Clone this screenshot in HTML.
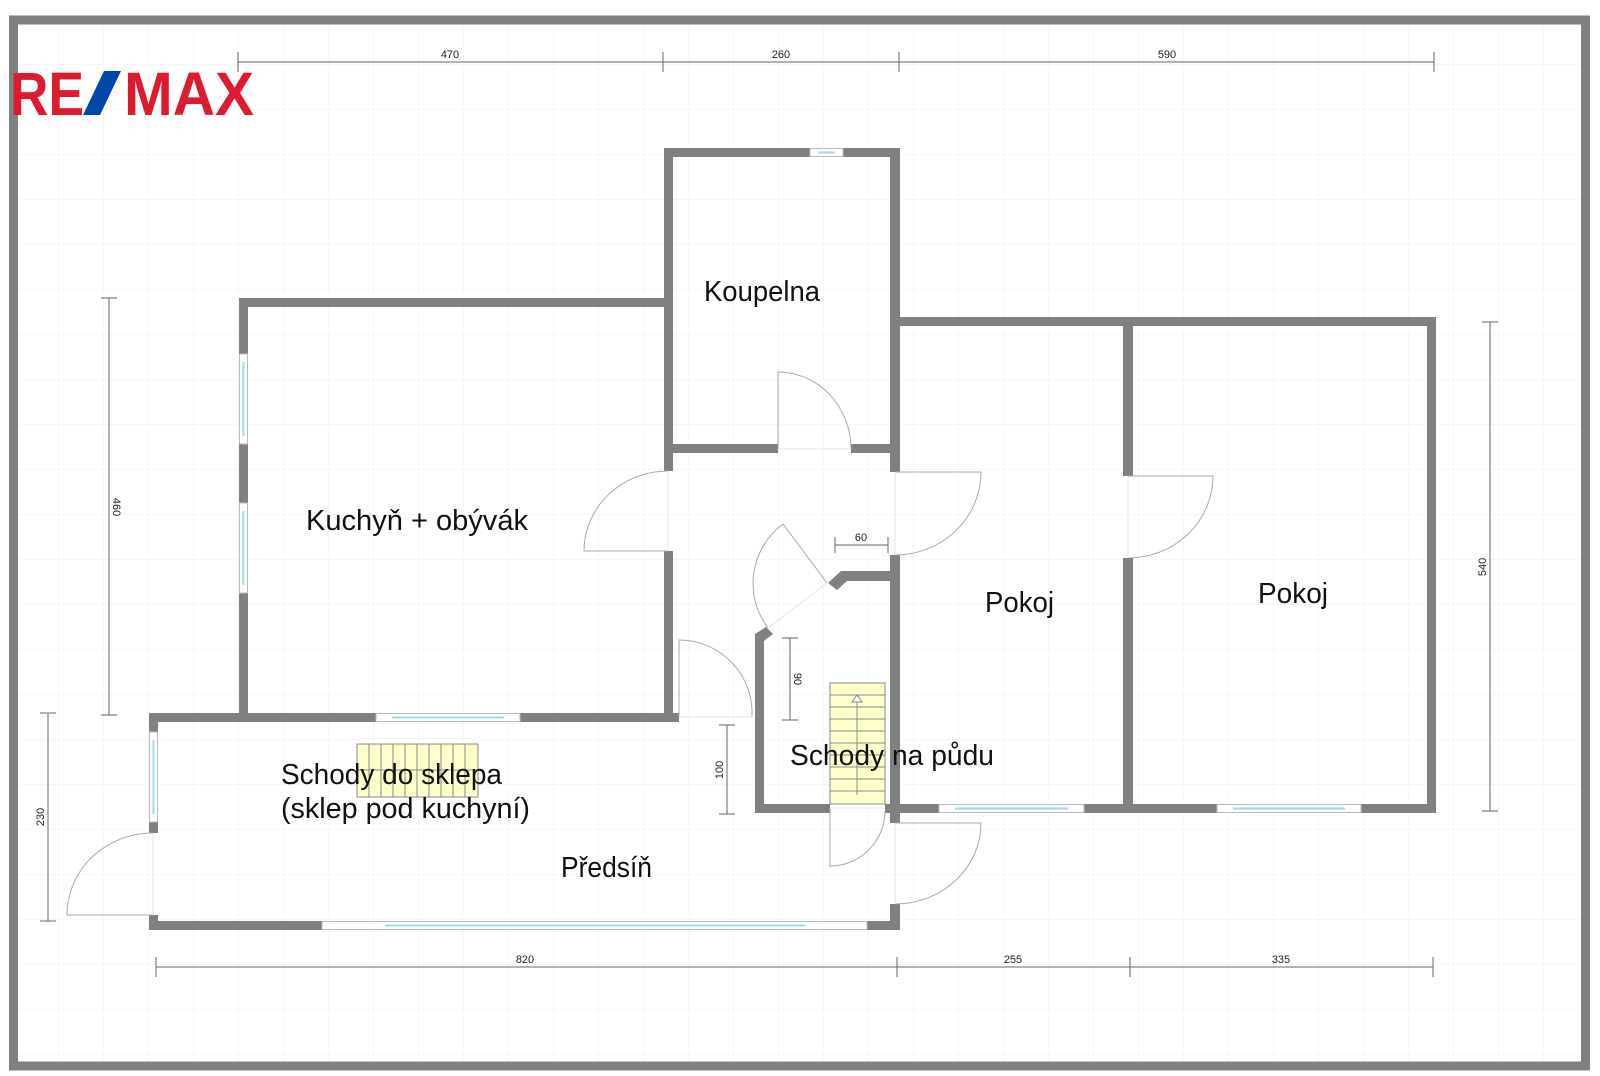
<!DOCTYPE html>
<html><head><meta charset="utf-8"><style>
html,body{margin:0;padding:0;background:#fff;}
svg{display:block;}
text{font-family:"Liberation Sans",sans-serif;}
</style></head><body>
<svg width="1600" height="1076" viewBox="0 0 1600 1076" xmlns="http://www.w3.org/2000/svg">
<defs>
<pattern id="g" width="45" height="45" patternUnits="userSpaceOnUse" x="14" y="20">
<path d="M45 0V45M0 45H45" fill="none" stroke="#eeeef8" stroke-width="1"/>
</pattern>
</defs>
<rect width="1600" height="1076" fill="#fff"/>
<rect x="18" y="25" width="1563" height="1036" fill="url(#g)"/>
<rect x="13.5" y="20" width="1572" height="1046" fill="none" stroke="#808080" stroke-width="9"/>

<!-- logo -->
<text x="10" y="115" font-size="61" font-weight="bold" fill="#dc1c2e" textLength="74" lengthAdjust="spacingAndGlyphs">RE</text>
<polygon points="104,71 121,71 100,115 83,115" fill="#0047ab"/>
<text x="124" y="115" font-size="61" font-weight="bold" fill="#dc1c2e" textLength="130" lengthAdjust="spacingAndGlyphs">MAX</text>

<!-- dimension lines -->
<g stroke="#666" stroke-width="1" fill="none">
<path d="M238 62H1434M238 52V72M663 52V72M899 52V72M1434 52V72"/>
<path d="M156 967H1433M156 957V977M897 957V977M1130 957V977M1433 957V977"/>
<path d="M109 298V715M101 298H117M101 715H117"/>
<path d="M48 713V921M40 713H56M40 921H56"/>
<path d="M1490 322V811M1482 322H1498M1482 811H1498"/>
<path d="M790 638V720M782 638H798M782 720H798"/>
<path d="M727 725V814M719 725H735M719 814H735"/>
<path d="M835 545H888M835 537V553M888 537V553"/>
</g>
<g font-size="11" fill="#222" text-anchor="middle">
<text x="450" y="58">470</text>
<text x="781" y="58">260</text>
<text x="1167" y="58">590</text>
<text x="525" y="963">820</text>
<text x="1013" y="963">255</text>
<text x="1281" y="963">335</text>
<text x="861" y="541">60</text>
<text transform="translate(113,507) rotate(90)">460</text>
<text transform="translate(44,817) rotate(-90)">230</text>
<text transform="translate(1486,567) rotate(-90)">540</text>
<text transform="translate(794,679) rotate(90)">90</text>
<text transform="translate(723,770) rotate(-90)">100</text>
</g>

<!-- walls -->
<g fill="#808080">
<!-- kitchen -->
<rect x="239" y="298" width="434" height="9"/>
<rect x="239" y="298" width="9" height="56"/>
<rect x="239" y="444" width="9" height="59"/>
<rect x="239" y="593" width="9" height="129"/>
<rect x="664" y="148" width="9" height="323"/>
<rect x="664" y="551" width="9" height="171"/>
<!-- bath -->
<rect x="664" y="148" width="146" height="9"/>
<rect x="843" y="148" width="57" height="9"/>
<rect x="664" y="444" width="114" height="9"/>
<rect x="851" y="444" width="49" height="9"/>
<rect x="890" y="148" width="10" height="324"/>
<rect x="890" y="555" width="10" height="268"/>
<rect x="890" y="904" width="10" height="26"/>
<!-- rooms -->
<rect x="890" y="317" width="546" height="9"/>
<rect x="1123" y="317" width="10" height="159"/>
<rect x="1123" y="558" width="10" height="255"/>
<rect x="1427" y="317" width="9" height="496"/>
<rect x="755" y="804" width="75" height="9"/>
<rect x="885" y="804" width="54" height="9"/>
<rect x="1084" y="804" width="133" height="9"/>
<rect x="1361" y="804" width="75" height="9"/>
<!-- hall -->
<rect x="755" y="634" width="9" height="179"/>
<rect x="841" y="571" width="59" height="10"/>
<polygon points="755,634 764,641 773,634 766,627"/>
<polygon points="828,583 837,590 847,581 841,571"/>
<!-- predsin -->
<rect x="149" y="713" width="227" height="9"/>
<rect x="520" y="713" width="159" height="9"/>
<rect x="149" y="713" width="9" height="19"/>
<rect x="149" y="822" width="9" height="11"/>
<rect x="149" y="915" width="9" height="15"/>
<rect x="149" y="921" width="173" height="9"/>
<rect x="867" y="921" width="33" height="9"/>
</g>

<!-- windows -->
<g fill="#fff" stroke="#bbb" stroke-width="1">
<rect x="810" y="148.5" width="33" height="8"/>
<rect x="239.5" y="354" width="8" height="90"/>
<rect x="239.5" y="503" width="8" height="90"/>
<rect x="376" y="713.5" width="144" height="8"/>
<rect x="149.5" y="732" width="8" height="90"/>
<rect x="322" y="921.5" width="545" height="8"/>
<rect x="939" y="804.5" width="145" height="8"/>
<rect x="1217" y="804.5" width="144" height="8"/>
</g>
<g stroke="#9fdde6" stroke-width="2">
<path d="M818 152.5H835M243.5 362V436M243.5 511V585M392 717.5H504M153.5 740V814M385 925.5H805M955 808.5H1068M1233 808.5H1345"/>
</g>

<!-- doors -->
<g fill="none" stroke="#aaa" stroke-width="1">
<path d="M778 449V372A73 77 0 0 1 851 449"/>
<path d="M668 471A84 80 0 0 0 584 551H668"/>
<path d="M895 472H981A86 83 0 0 1 895 555"/>
<path d="M1128 476H1213A85 82 0 0 1 1128 558"/>
<path d="M827 583L783 524A74 74 0 0 0 768 628"/>
<path d="M679 717V640A73 73 0 0 1 752 717"/>
<path d="M830 808V866A55 55 0 0 0 885 811"/>
<path d="M895 823H981A86 81 0 0 1 895 904"/>
<path d="M153 833A86 82 0 0 0 67 915H153"/>
</g>
<g stroke="#e4e4e4" stroke-width="1">
<path d="M778 449H851M668 471V551M895 472V555M1128 476V558M768 628L827 583M679 717H752M830 808H885M895 823V904M153 833V915"/>
</g>

<!-- stairs 1 -->
<rect x="357" y="744" width="121" height="53" fill="#ffffcc" stroke="#888" stroke-width="1"/>
<g stroke="#888" stroke-width="1">
<path d="M369 744V797M381 744V797M393 744V797M405 744V797M417 744V797M429 744V797M441 744V797M453 744V797M465 744V797M357 770H478"/>
</g>
<!-- stairs 2 -->
<rect x="830" y="683" width="55" height="121" fill="#ffffcc" stroke="#888" stroke-width="1"/>
<g stroke="#888" stroke-width="1" fill="none">
<path d="M830 695H885M830 707H885M830 719H885M830 731H885M830 743H885M830 755H885M830 767H885M830 779H885M830 791H885"/>
<path d="M857 696V795"/>
<path d="M852 702L857 695L862 702Z" fill="#fff"/>
</g>

<!-- labels -->
<g font-size="29" fill="#111">
<text x="704" y="301" textLength="116" lengthAdjust="spacingAndGlyphs">Koupelna</text>
<text x="306" y="530" textLength="222" lengthAdjust="spacingAndGlyphs">Kuchyň + obývák</text>
<text x="985" y="612" textLength="69" lengthAdjust="spacingAndGlyphs">Pokoj</text>
<text x="1258" y="603" textLength="70" lengthAdjust="spacingAndGlyphs">Pokoj</text>
<text x="790" y="765" textLength="204" lengthAdjust="spacingAndGlyphs">Schody na půdu</text>
<text x="281" y="784" textLength="221" lengthAdjust="spacingAndGlyphs">Schody do sklepa</text>
<text x="281" y="818" textLength="249" lengthAdjust="spacingAndGlyphs">(sklep pod kuchyní)</text>
<text x="561" y="877" textLength="91" lengthAdjust="spacingAndGlyphs">Předsíň</text>
</g>
</svg>
</body></html>
